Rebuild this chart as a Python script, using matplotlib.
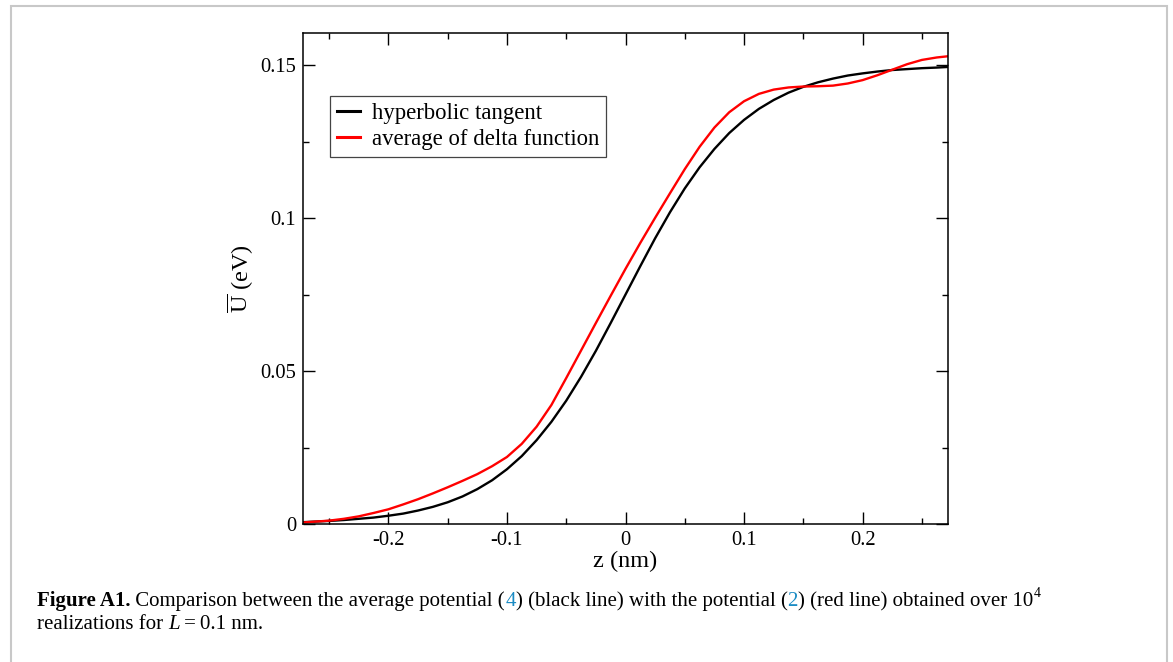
import numpy as np
import matplotlib
matplotlib.use("Agg")
import matplotlib.pyplot as plt
from matplotlib.patches import Rectangle

plt.rcParams['font.family'] = ['Liberation Serif', 'DejaVu Serif']
plt.rcParams['mathtext.fontset'] = 'custom'
plt.rcParams['mathtext.rm'] = 'Liberation Serif'
plt.rcParams['mathtext.it'] = 'Liberation Serif:italic'

# datos
z = [-0.272, -0.25, -0.2375, -0.225, -0.2125, -0.2, -0.1875, -0.175, -0.1625,
     -0.15, -0.1375, -0.125, -0.1125, -0.1, -0.0875, -0.075, -0.0625, -0.05,
     -0.0375, -0.025, -0.0125, 0.0, 0.0125, 0.025, 0.0375, 0.05, 0.0625,
     0.075, 0.0875, 0.1, 0.1125, 0.125, 0.1375, 0.15, 0.1625, 0.175, 0.1875,
     0.2, 0.2125, 0.225, 0.2375, 0.25, 0.2625, 0.272]
u_tanh = [0.0006, 0.0010, 0.0013, 0.0017, 0.0021, 0.0027, 0.0034, 0.0044,
          0.0056, 0.0071, 0.0090, 0.0114, 0.0143, 0.0179, 0.0222, 0.0274,
          0.0334, 0.0403, 0.0481, 0.0566, 0.0657, 0.0750, 0.0843, 0.0934,
          0.1019, 0.1097, 0.1166, 0.1226, 0.1278, 0.1321, 0.1357, 0.1386,
          0.1410, 0.1429, 0.1444, 0.1456, 0.1466, 0.1473, 0.1479, 0.1484,
          0.1487, 0.1490, 0.1492, 0.1494]
u_delta = [0.0005, 0.0011, 0.0017, 0.0025, 0.0036, 0.0048, 0.0064, 0.0081,
           0.0100, 0.0120, 0.0141, 0.0163, 0.0189, 0.0219, 0.0262, 0.0318,
           0.0389, 0.0477, 0.0567, 0.0657, 0.0746, 0.0834, 0.0919, 0.1001,
           0.1081, 0.1160, 0.1233, 0.1296, 0.1346, 0.1382, 0.1406, 0.1420,
           0.1427, 0.1430, 0.1431, 0.1433, 0.1440, 0.1451, 0.1467, 0.1485,
           0.1503, 0.1517, 0.1525, 0.1529]

W, H = 1173, 662
fig = plt.figure(figsize=(W / 100, H / 100), dpi=100)
ax = fig.add_axes([303 / W, 1 - 524 / H, (948 - 303) / W, (524 - 33) / H])

ax.plot(z, u_tanh, color='black', lw=1.7, label='hyperbolic tangent')
ax.plot(z, u_delta, color='red', lw=1.7, label='average of delta function')

ax.set_xlim(-0.272, 0.272)
ax.set_ylim(0, 0.1605)
ax.set_xticks([-0.2, -0.1, 0, 0.1, 0.2])
ax.set_xticklabels(['-0.2', '-0.1', '0', '0.1', '0.2'])
ax.set_xticks(np.arange(-0.25, 0.26, 0.05), minor=True)
ax.set_yticks([0, 0.05, 0.1, 0.15])
ax.set_yticklabels(['0', '0.05', '0.1', '0.15'])
ax.set_yticks(np.arange(0, 0.16, 0.025), minor=True)
ax.tick_params(which='both', direction='in', top=True, right=True,
               labelsize=14.8, width=1.0)
ax.tick_params(which='major', length=8.4, pad=5)
ax.tick_params(which='minor', length=4.3)
for s in ax.spines.values():
    s.set_linewidth(1.1)

ax.set_xlabel('z (nm)', fontsize=17.5, labelpad=1)
ax.set_ylabel(r'$\overline{\mathrm{U}}$ (eV)', fontsize=17.5, labelpad=4)

leg = ax.legend(loc='upper left', bbox_to_anchor=(330 / W, 1 - 96 / H),
                bbox_transform=fig.transFigure, fontsize=16.4,
                fancybox=False, framealpha=1, edgecolor='#444444',
                handlelength=1.0, handletextpad=0.55, borderpad=0.3,
                labelspacing=0.22, borderaxespad=0)
leg.get_frame().set_linewidth(0.9)
for l in leg.get_lines():
    l.set_linewidth(2.2)

# marco gris
fig.patches.append(Rectangle((11 / W, -0.05), (1167 - 11) / W, 1 - 6 / H + 0.05,
                             transform=fig.transFigure, fill=False,
                             edgecolor='#c8c8c8', lw=1.5))

# leyenda de la figura
renderer = fig.canvas.get_renderer()


def linea(piezas, x0, y0):
    x = x0
    for txt, kw in piezas:
        t = fig.text(x, y0, txt, fontsize=15, va='baseline', **kw)
        bb = t.get_window_extent(renderer=renderer)
        x += bb.width / W
    return x


azul = '#1a8bc4'
xf = linea([('Figure A1.', dict(fontweight='bold')),
            (' Comparison between the average potential (', {}),
            ('4', dict(color=azul)),
            (') (black line) with the potential (', {}),
            ('2', dict(color=azul)),
            (') (red line) obtained over 10', {})], 37 / W, 1 - 606 / H)
fig.text(xf + 1 / W, 1 - 597 / H, '4', fontsize=10, va='baseline')
linea([('realizations for ', {}),
       ('L', dict(fontstyle='italic')),
       ('\u2009=\u20090.1 nm.', {})], 37 / W, 1 - 629 / H)

fig.savefig('out.png', dpi=100)
